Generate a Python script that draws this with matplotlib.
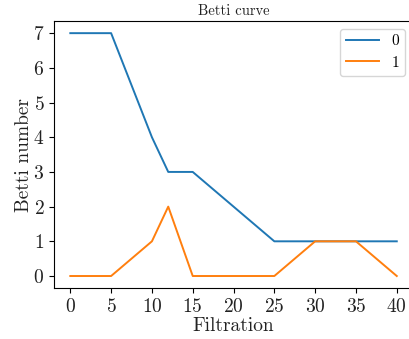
import matplotlib
matplotlib.use("Agg")
import matplotlib.pyplot as plt

plt.rcParams["font.family"] = "serif"
plt.rcParams["font.serif"] = ["cmr10", "DejaVu Serif"]
plt.rcParams["mathtext.fontset"] = "cm"
plt.rcParams["axes.unicode_minus"] = False
plt.rcParams["axes.formatter.use_mathtext"] = True

# Betti numbers along the filtration
filtration = [0, 5, 10, 12, 15, 25, 30, 35, 40]
betti_0 = [7, 7, 4, 3, 3, 1, 1, 1, 1]
betti_1 = [0, 0, 1, 2, 0, 0, 1, 1, 0]
xticks = [0, 5, 10, 15, 20, 25, 30, 35, 40]
yticks = [0, 1, 2, 3, 4, 5, 6, 7]

fig = plt.figure(figsize=(4.09, 3.39), dpi=100)
ax = fig.add_axes([0.132, 0.150, 0.878, 0.788])

ax.plot(filtration, betti_0, color="#1f77b4", lw=1.4, label="0")
ax.plot(filtration, betti_1, color="#ff7f0e", lw=1.4, label="1")

ax.set_xticks(xticks)
ax.set_yticks(yticks)
ax.tick_params(labelsize=14, colors="#222222", color="black")
ax.set_xlabel("Filtration", fontsize=14, labelpad=1, color="#222222")
ax.set_ylabel("Betti number", fontsize=14, labelpad=0, color="#222222")
ax.set_title("Betti curve", fontsize=10.5, pad=4, color="#222222")
ax.legend(fontsize=11, loc="upper right", handlelength=2.2,
          borderaxespad=0.5)

fig.savefig("out.png", dpi=100)
